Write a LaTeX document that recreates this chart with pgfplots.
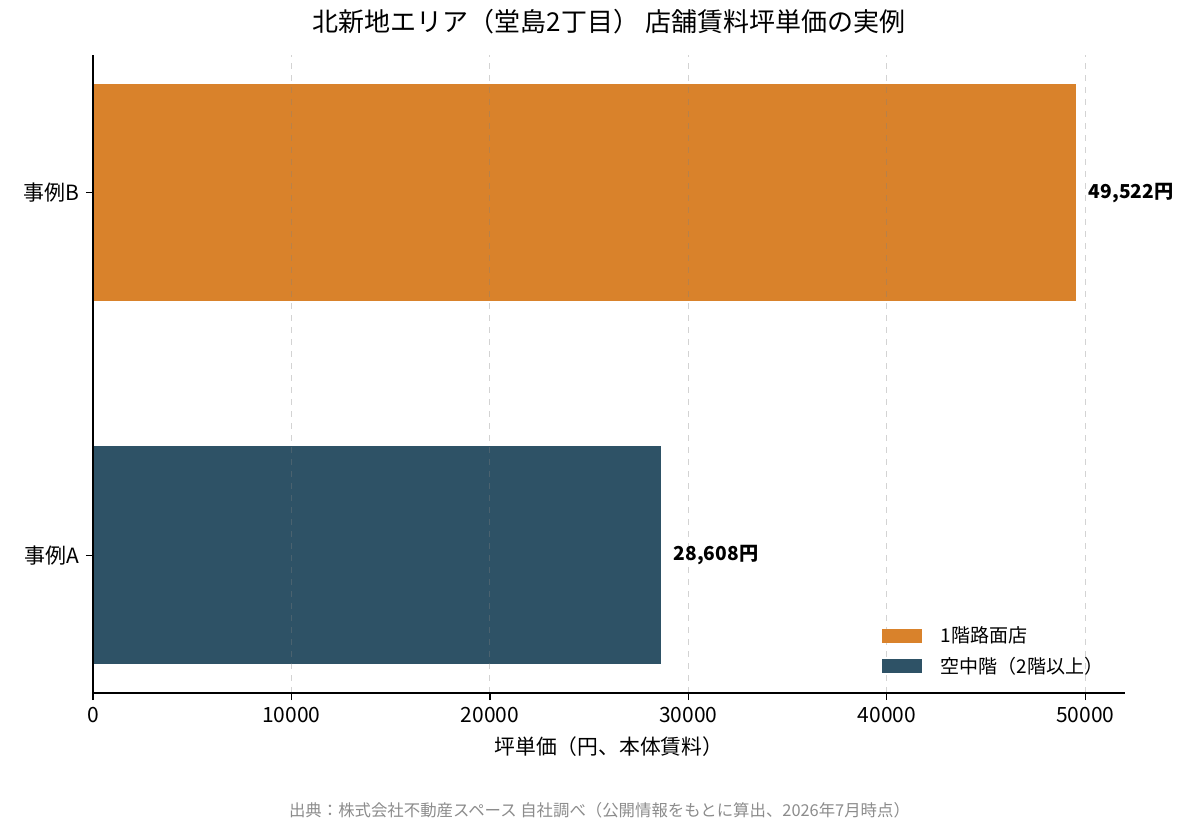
\documentclass[border=0pt]{standalone}
\usepackage{fontspec}
\setmainfont{Noto Sans CJK JP}
\usepackage{pgfplots}
\pgfplotsset{compat=1.18}
\definecolor{barorange}{RGB}{217,130,43}
\definecolor{barblue}{RGB}{46,82,102}
\definecolor{footgrey}{RGB}{140,140,140}
\begin{document}
\begin{tikzpicture}
\path[use as bounding box] (0,0) rectangle (600pt,412.5pt);
\begin{axis}[
  at={(46.5pt,66pt)}, anchor=south west,
  scale only axis, width=516pt, height=319pt,
  xmin=0, xmax=52000, ymin=-0.38, ymax=1.38,
  axis x line*=bottom, axis y line*=left,
  axis line style={line width=0.6pt},
  xtick={0,10000,20000,30000,40000,50000},
  ytick={0,1}, yticklabels={事例A,事例B},
  scaled x ticks=false,
  /pgf/number format/assume math mode=true,
  xticklabel={\pgfmathprintnumber[set thousands separator={}]{\tick}},
  tick align=outside, major tick length=3.5pt,
  tick style={black, line width=0.6pt},
  ticklabel style={font=\fontsize{10.5pt}{12pt}\selectfont},
  xmajorgrids, major grid style={dashed, gray, opacity=0.35, line width=0.5pt},
  axis on top,
  xbar, bar width=0.6, bar shift=0,
  title={北新地エリア（堂島2丁目） 店舗賃料坪単価の実例},
  title style={font=\fontsize{13pt}{15pt}\selectfont, at={(axis description cs:0.5,1)}, anchor=center, yshift=10.5pt},
  xlabel={坪単価（円、本体賃料）},
  xlabel style={font=\fontsize{10.4pt}{13pt}\selectfont, at={(axis description cs:0.5,0)}, anchor=center, yshift=-27pt},
  nodes near coords, point meta=explicit symbolic,
  nodes near coords style={font=\bfseries\fontsize{9.6pt}{12pt}\selectfont, anchor=west, xshift=3pt},
  legend style={draw=none, fill=none, at={(axis description cs:0.985,0.04)}, anchor=south east,
    xshift=2pt, yshift=-8.5pt,
    font=\fontsize{9.5pt}{11pt}\selectfont, row sep=1.5pt, legend cell align=left},
  legend image code/.code={\fill[#1] (0pt,-3.5pt) rectangle (20pt,3.5pt); \path (27.5pt,0pt);},
]
\addplot[fill=barorange, draw=none] coordinates {(49522,1) [49,522円]};
\addlegendentry{1階路面店}
\addplot[fill=barblue, draw=none] coordinates {(28608,0) [28,608円]};
\addlegendentry{空中階（2階以上）}
\end{axis}
\node[font=\fontsize{8.2pt}{10pt}\selectfont, text=footgrey] at (299.75pt,7.5pt) {出典：株式会社不動産スペース 自社調べ（公開情報をもとに算出、2026年7月時点）};
\end{tikzpicture}
\end{document}
